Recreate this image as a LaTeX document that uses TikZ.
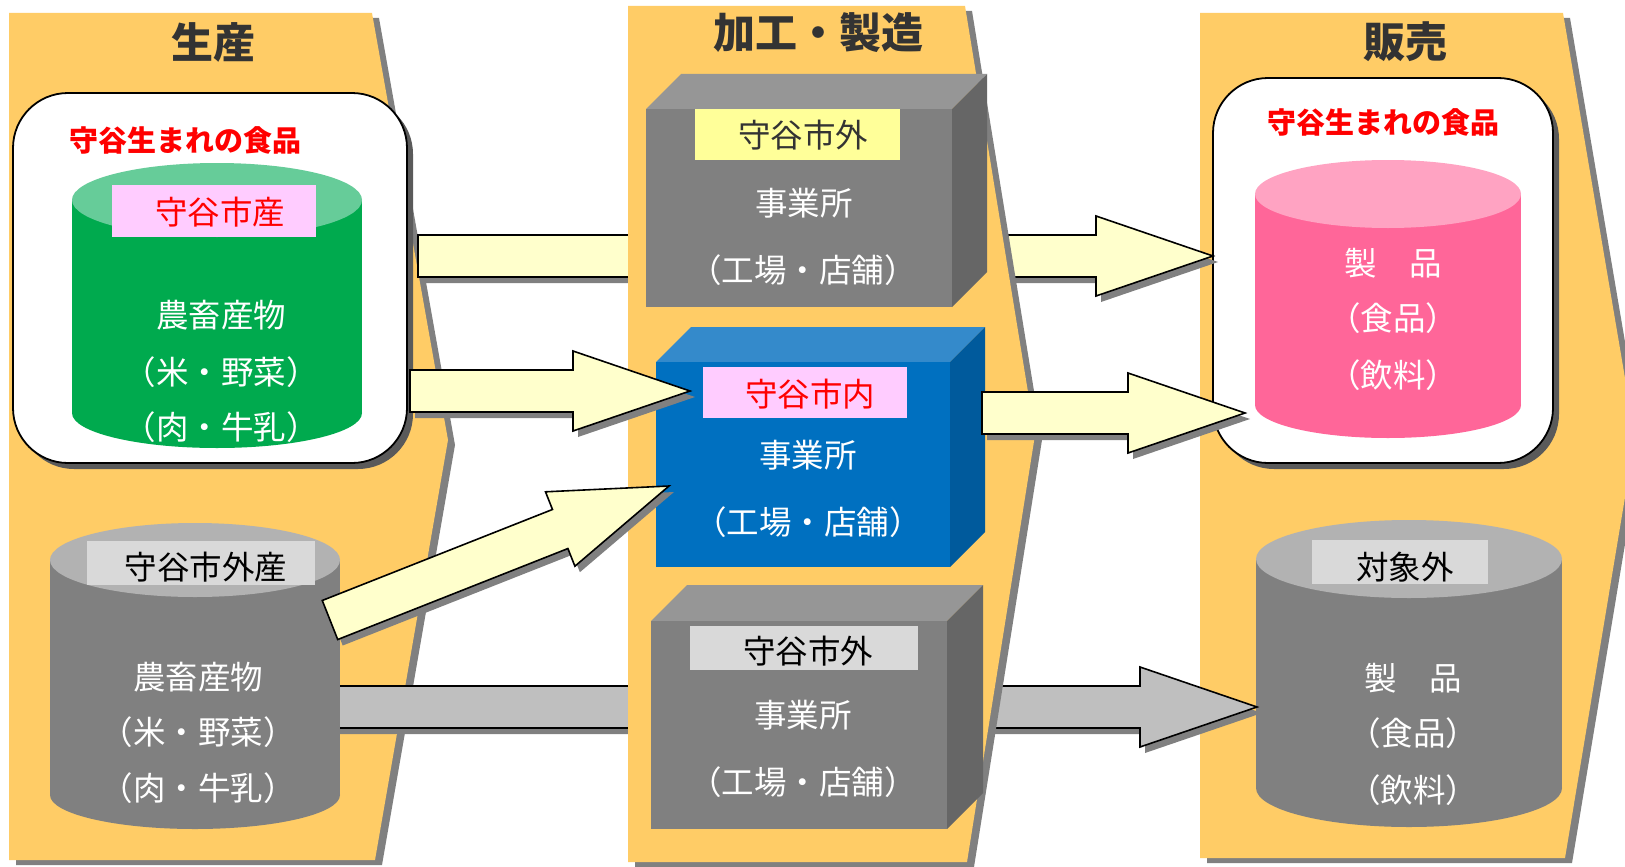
\documentclass[tikz,border=0pt]{standalone}
\usepackage{fontspec}
\newfontfamily\jp{Noto Sans CJK JP}
\newfontfamily\jpblack{Noto Sans CJK JP Black}
\usetikzlibrary{calc}
\definecolor{band}{RGB}{255,204,102}
\definecolor{bandsh}{RGB}{128,128,128}
\definecolor{boxsh}{RGB}{90,90,90}
\definecolor{grnside}{RGB}{0,170,78}
\definecolor{grntop}{RGB}{102,204,153}
\definecolor{pinklab}{RGB}{255,204,255}
\definecolor{gcyl}{RGB}{128,128,128}
\definecolor{gcyltop}{RGB}{178,178,178}
\definecolor{lgray}{RGB}{217,217,217}
\definecolor{pside}{RGB}{255,102,153}
\definecolor{ptop}{RGB}{255,163,194}
\definecolor{bxfront}{RGB}{128,128,128}
\definecolor{bxtop}{RGB}{150,150,150}
\definecolor{bxright}{RGB}{102,102,102}
\definecolor{blfront}{RGB}{0,112,192}
\definecolor{bltop}{RGB}{52,138,203}
\definecolor{blright}{RGB}{0,90,156}
\definecolor{ylab}{RGB}{255,255,153}
\definecolor{arry}{RGB}{255,255,204}
\definecolor{arrg}{RGB}{191,191,191}
\definecolor{arrsh}{RGB}{128,128,128}
\definecolor{hdrcol}{RGB}{51,51,51}
\definecolor{titred}{RGB}{255,0,0}
\tikzset{
  hdrtext/.style={font=\jpblack\fontsize{42pt}{42pt}\selectfont, text=hdrcol, inner sep=0},
  ttltext/.style={font=\jpblack\fontsize{29pt}{29pt}\selectfont, text=titred, inner sep=0},
  wtext/.style={font=\jp\fontsize{32.5pt}{32.5pt}\selectfont, text=white, inner sep=0},
  ltext/.style={font=\jp\fontsize{32.5pt}{32.5pt}\selectfont, inner sep=0},
  labbox/.style={draw=none, inner sep=0, rectangle},
  blockarr/.style={draw=black, line width=1.6pt, line join=miter},
  roundbox/.style={draw=black, fill=white, line width=1.8pt, rounded corners=55pt},
  roundsh/.style={fill=boxsh, rounded corners=55pt}
}
\newcommand\blockarrow[3]{%
  \coordinate (ba-h) at ($(#3)!117pt!(#2)$);
  \coordinate (ba-t1) at ($(#2)!21pt!90:(#3)$);
  \coordinate (ba-t2) at ($(#2)!21pt!-90:(#3)$);
  \coordinate (ba-s1) at ($(ba-h)!21pt!90:(#3)$);
  \coordinate (ba-s2) at ($(ba-h)!21pt!-90:(#3)$);
  \coordinate (ba-w1) at ($(ba-h)!40pt!90:(#3)$);
  \coordinate (ba-w2) at ($(ba-h)!40pt!-90:(#3)$);
  \fill[arrsh, transform canvas={shift={(5pt,-6pt)}}] (ba-t1) -- (ba-s1) -- (ba-w1) -- (#3) -- (ba-w2) -- (ba-s2) -- (ba-t2) -- cycle;
  \draw[blockarr, fill=#1] (ba-t1) -- (ba-s1) -- (ba-w1) -- (#3) -- (ba-w2) -- (ba-s2) -- (ba-t2) -- cycle;
}
\begin{document}
\begin{tikzpicture}[x=1pt,y=-1pt]
\fill[white] (0,0) rectangle (1625,867);
\useasboundingbox (0,0) rectangle (1625,867);

% ---------- band 3 (販売)
\fill[bandsh] (1207,18) -- (1570,18) -- (1642,442) -- (1572,863) -- (1207,863) -- cycle;
\fill[band] (1200,13) -- (1563,13) -- (1635,437) -- (1565,858) -- (1200,858) -- cycle;
\node[hdrtext] (h3) at (1405,42) {販売};

% white box col 3
\fill[roundsh] (1219,84) rectangle (1559,469);
\draw[roundbox] (1213,78) rectangle (1553,463);
\node[ttltext] (t3) at (1383,122) {守谷生まれの食品};

% pink cylinder
\fill[pside] (1255,194) rectangle (1521,405);
\fill[pside] (1388,405) ellipse [x radius=133, y radius=33];
\fill[ptop] (1388,194) ellipse [x radius=133, y radius=34];
\node[wtext] (p1) at (1393,263) {製　品};
\node[wtext] (p2) at (1393,318) {（食品）};
\node[wtext] (p3) at (1393,375) {（飲料）};

% gray cylinder col 3
\fill[gcyl] (1256,559) rectangle (1562,788);
\fill[gcyl] (1409,788) ellipse [x radius=153, y radius=39];
\fill[gcyltop] (1409,559) ellipse [x radius=153, y radius=39];
\node[labbox, fill=lgray, minimum width=176pt, minimum height=44pt] (l3) at (1400,562) {};
\node[ltext, text=black] (l3t) at (1405,567) {対象外};
\node[wtext] (q1) at (1413,678) {製　品};
\node[wtext] (q2) at (1413,733) {（食品）};
\node[wtext] (q3) at (1413,790) {（飲料）};

% ---------- band 1 (生産)
\fill[bandsh] (16,18) -- (379,18) -- (455,445) -- (382,865) -- (16,865) -- cycle;
\fill[band] (9,13) -- (372,13) -- (448,440) -- (375,860) -- (9,860) -- cycle;
\node[hdrtext] (h1) at (213,42) {生産};

% white box col 1
\fill[roundsh] (19,99) rectangle (413,469);
\draw[roundbox] (13,93) rectangle (407,463);
\node[ttltext] (t1) at (185,140) {守谷生まれの食品};

% green cylinder
\fill[grnside] (72,200) rectangle (362,413);
\fill[grnside] (217,413) ellipse [x radius=145, y radius=35];
\fill[grntop] (217,200) ellipse [x radius=145, y radius=37];
\node[labbox, fill=pinklab, minimum width=204pt, minimum height=52pt] (l1) at (214,211) {};
\node[ltext, text=titred] (l1t) at (220,212) {守谷市産};
\node[wtext] (g1) at (221,315) {農畜産物};
\node[wtext] (g2) at (221,372) {（米・野菜）};
\node[wtext] (g3) at (221,427) {（肉・牛乳）};

% ---------- arrows behind band 2
\coordinate (a1s) at (418,256);
\coordinate (a1e) at (1213,256);
\coordinate (a5s) at (330,707);
\coordinate (a5e) at (1257,707);
\blockarrow{arry}{a1s}{a1e}
\blockarrow{arrg}{a5s}{a5e}

% gray cylinder col 1
\fill[gcyl] (50,560) rectangle (340,795);
\fill[gcyl] (195,795) ellipse [x radius=145, y radius=34];
\fill[gcyltop] (195,560) ellipse [x radius=145, y radius=37];
\node[labbox, fill=lgray, minimum width=228pt, minimum height=44pt] (l2) at (201,563) {};
\node[ltext, text=black] (l2t) at (206,567) {守谷市外産};
\node[wtext] (k1) at (198,677) {農畜産物};
\node[wtext] (k2) at (198,732) {（米・野菜）};
\node[wtext] (k3) at (198,788) {（肉・牛乳）};

% ---------- band 2 (加工・製造)
\fill[bandsh] (635,11) -- (972,11) -- (1042,440) -- (974,867) -- (635,867) -- cycle;
\fill[band] (628,6) -- (965,6) -- (1035,435) -- (967,862) -- (628,862) -- cycle;
\node[hdrtext] (h2) at (818,33) {加工・製造};

% box 1 (gray, 守谷市外)
\fill[bxtop] (646,109) -- (681,74) -- (987,74) -- (952,109) -- cycle;
\fill[bxright] (952,109) -- (987,74) -- (987,272) -- (952,307) -- cycle;
\fill[bxfront] (646,109) rectangle (952,307);
\node[labbox, fill=ylab, minimum width=205pt, minimum height=51pt] (b1l) at (797.5,134.5) {};
\node[ltext, text=hdrcol] (b1lt) at (803,135) {守谷市外};
\node[wtext] (b1a) at (804,203) {事業所};
\node[wtext] (b1b) at (803,270) {（工場・店舗）};

% box 2 (blue, 守谷市内)
\fill[bltop] (656,362) -- (691,327) -- (985,327) -- (950,362) -- cycle;
\fill[blright] (950,362) -- (985,327) -- (985,532) -- (950,567) -- cycle;
\fill[blfront] (656,362) rectangle (950,567);
\node[labbox, fill=pinklab, minimum width=204pt, minimum height=51pt] (b2l) at (805,392.5) {};
\node[ltext, text=titred] (b2lt) at (810,394) {守谷市内};
\node[wtext] (b2a) at (808,455) {事業所};
\node[wtext] (b2b) at (808,522) {（工場・店舗）};

% box 3 (gray, 守谷市外)
\fill[bxtop] (651,621) -- (687,585) -- (983,585) -- (947,621) -- cycle;
\fill[bxright] (947,621) -- (983,585) -- (983,793) -- (947,829) -- cycle;
\fill[bxfront] (651,621) rectangle (947,829);
\node[labbox, fill=lgray, minimum width=228pt, minimum height=44pt] (b3l) at (804,648) {};
\node[ltext, text=black] (b3lt) at (808,651) {守谷市外};
\node[wtext] (b3a) at (803,715) {事業所};
\node[wtext] (b3b) at (803,782) {（工場・店舗）};

% ---------- arrows on top
\coordinate (a2s) at (410,391);
\coordinate (a2e) at (690,391);
\coordinate (a3s) at (330,620);
\coordinate (a3e) at (669,486);
\coordinate (a4s) at (982,413);
\coordinate (a4e) at (1245,413);
\blockarrow{arry}{a2s}{a2e}
\blockarrow{arry}{a3s}{a3e}
\blockarrow{arry}{a4s}{a4e}
\end{tikzpicture}
\end{document}
